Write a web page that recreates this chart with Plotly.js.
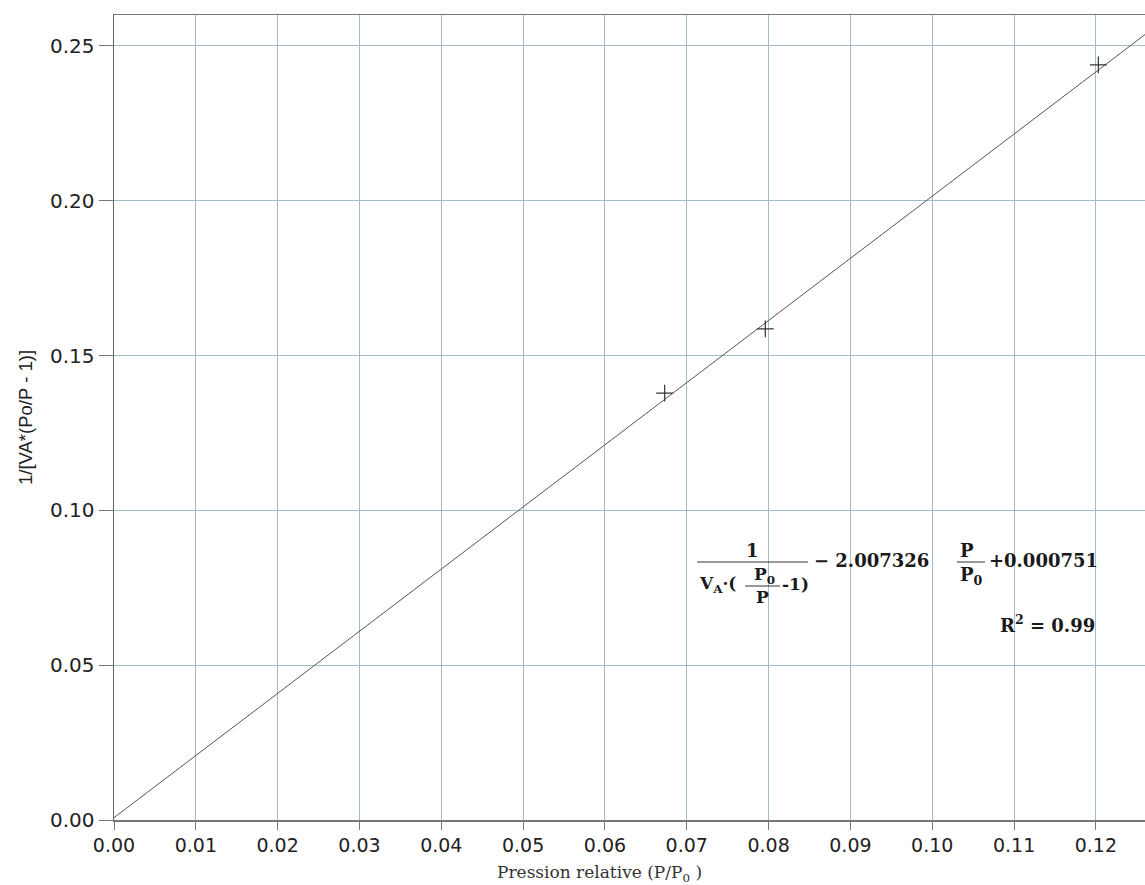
<!DOCTYPE html>
<html>
<head>
<meta charset="utf-8">
<script src="https://cdn.plot.ly/plotly-3.0.1.min.js"></script>
<style>html,body{margin:0;padding:0;background:#fff;}#chart{width:1145px;height:885px;}</style>
</head>
<body>
<div id="chart"></div>
<script>
// Measured points (relative pressure, BET transform)
const pointsX = [0.0673, 0.0796, 0.1203];
const pointsY = [0.1379, 0.1586, 0.2439];
// Regression line
const slope = 2.007326;
const intercept = 0.000751;
const fitX = [0, 0.127];
const fitY = fitX.map(v => slope * v + intercept);
// Ticks
const xTicks = [0, 0.01, 0.02, 0.03, 0.04, 0.05, 0.06, 0.07, 0.08, 0.09, 0.10, 0.11, 0.12];
const xTickText = ["0.00","0.01","0.02","0.03","0.04","0.05","0.06","0.07","0.08","0.09","0.10","0.11","0.12"];
const yTicks = [0, 0.05, 0.10, 0.15, 0.20, 0.25];
const yTickText = ["0.00","0.05","0.10","0.15","0.20","0.25"];

const L = 114, T = 15, W = 1031, H = 805;
const px = x => (x - L) / W;
const py = y => (T + H - y) / H;

const eqFont = {family: "DejaVu Serif", size: 18, color: "#1a1a1a", weight: "bold"};
function ann(text, x, y, xanchor, size) {
  const f = Object.assign({}, eqFont);
  if (size) f.size = size;
  return {text: text, x: px(x), y: py(y), xref: "paper", yref: "paper",
          xanchor: xanchor || "center", yanchor: "middle", showarrow: false, font: f};
}
function bar(x0, x1, y) {
  return {type: "line", xref: "paper", yref: "paper", x0: px(x0), x1: px(x1), y0: py(y), y1: py(y),
          line: {color: "#333", width: 1}};
}

const data = [
  {x: fitX, y: fitY, mode: "lines", type: "scatter", line: {color: "#555", width: 1}, hoverinfo: "skip"},
  {x: pointsX, y: pointsY, mode: "markers", type: "scatter",
   marker: {symbol: "cross-thin", size: 12, line: {color: "#333", width: 1.2}}}
];

const layout = {
  width: 1145, height: 885,
  margin: {l: L, r: 0, t: T, b: 65},
  showlegend: false,
  paper_bgcolor: "#fff", plot_bgcolor: "#fff",
  xaxis: {
    range: [0, 0.126], tickvals: xTicks, ticktext: xTickText,
    showgrid: true, gridcolor: "#a3bccb", gridwidth: 1,
    zeroline: false, showline: true, linecolor: "#777", linewidth: 1.5, mirror: true,
    ticks: "outside", ticklen: 8, tickcolor: "#777", tickwidth: 1,
    tickfont: {family: "DejaVu Sans", size: 19, color: "#222"}
  },
  yaxis: {
    range: [0, 0.26], tickvals: yTicks, ticktext: yTickText,
    showgrid: true, gridcolor: "#a3bccb", gridwidth: 1,
    zeroline: false, showline: true, linecolor: "#666", linewidth: 1.5,
    ticks: "outside", ticklen: 14, tickcolor: "#777", tickwidth: 1,
    tickfont: {family: "DejaVu Sans", size: 20, color: "#222"}
  },
  shapes: [bar(697, 808, 562), bar(745, 780, 586), bar(957, 985, 562)],
  annotations: [
    {text: "Pression relative (P/P<sub>0</sub> )", x: px(599), y: py(873), xref: "paper", yref: "paper",
     xanchor: "center", yanchor: "middle", showarrow: false,
     font: {family: "DejaVu Serif", size: 17, color: "#333"}},
    {text: "1/[VA*(Po/P - 1)]", x: px(25), y: py(418), xref: "paper", yref: "paper", textangle: -90,
     xanchor: "center", yanchor: "middle", showarrow: false,
     font: {family: "Liberation Sans", size: 18.5, color: "#222"}},
    ann("1", 752, 550),
    ann("V<sub>A</sub>·(", 697, 584, "left", 17),
    ann("P<sub>0</sub>", 764, 575, "center", 17),
    ann("P", 762, 597, "center", 17),
    ann("-1)", 780, 584, "left", 17),
    ann("− 2.007326", 812, 560, "left"),
    ann("P", 967, 550),
    ann("P<sub>0</sub>", 971, 576),
    ann("+0.000751", 987, 560, "left"),
    ann("R<sup>2</sup> = 0.99", 1097, 624, "right")
  ]
};

Plotly.newPlot("chart", data, layout, {displayModeBar: false, staticPlot: true});
</script>
</body>
</html>
